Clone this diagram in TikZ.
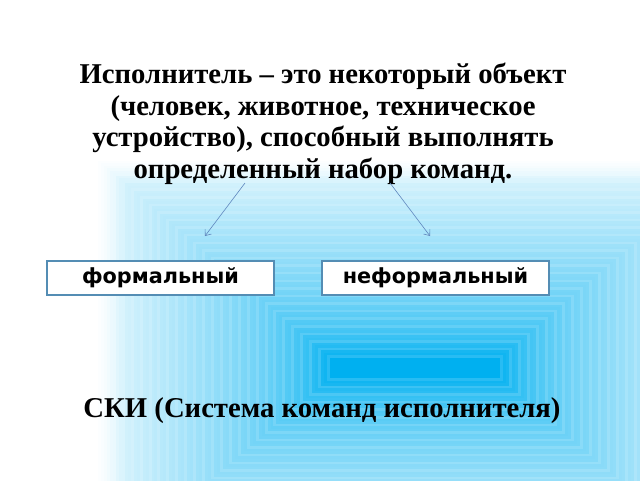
\documentclass[tikz,border=0pt]{standalone}
\usepackage{fontspec}
\setmainfont{Liberation Serif}
\newfontfamily\boxfont{DejaVu Sans}
\usetikzlibrary{arrows.meta}
\definecolor{bgblue}{RGB}{0,176,240}
\definecolor{boxline}{RGB}{84,141,180}
\definecolor{arrowc}{RGB}{95,135,190}
\tikzset{
  kindbox/.style={draw=boxline, line width=1.2pt, fill=white, minimum width=227pt, minimum height=34pt, inner sep=0pt, font=\boxfont\bfseries\fontsize{20.8}{22}\selectfont},
  bigtext/.style={font=\bfseries\fontsize{28.7}{31.4}\selectfont, align=center, inner sep=0pt},
  thinarrow/.style={draw=arrowc, line width=0.6pt, -{Straight Barb[length=5pt,width=8pt]}}
}
\begin{document}
\begin{tikzpicture}[x=1pt,y=-1pt]
\useasboundingbox (0,0) rectangle (640,480);
\fill[white] (0,0) rectangle (640,480);
\foreach \i in {0,...,79} {
  \pgfmathsetmacro{\t}{\i/79}
  \pgfmathsetmacro{\hw}{320-235*\t}
  \pgfmathsetmacro{\hh}{210-200*\t}
  \pgfmathsetmacro{\p}{(10+65*\t+25*\t^8)*min(1,\t/0.12)}
  \pgfmathsetmacro{\q}{\p*(mod(\i,3)==0 ? 0.87 : 1)}
  \fill[bgblue!\q!white] (415-\hw,368-\hh) rectangle (415+\hw,368+\hh);
}
\node[bigtext, anchor=base] (t) at (323,178) {Исполнитель – это некоторый объект\\(человек, животное, техническое\\устройство), способный выполнять\\определенный набор команд.};
\node[kindbox] (f) at (160.5,278) {формальный};
\node[kindbox] (n) at (435.5,278) {неформальный};
\node[bigtext, anchor=base] (s) at (322,417) {СКИ (Система команд исполнителя)};
\coordinate (a1s) at (245,183);
\coordinate (a1e) at (205,236);
\coordinate (a2s) at (390,183);
\coordinate (a2e) at (430,236);
\draw[thinarrow] (a1s) -- (a1e);
\draw[thinarrow] (a2s) -- (a2e);
\end{tikzpicture}
\end{document}
